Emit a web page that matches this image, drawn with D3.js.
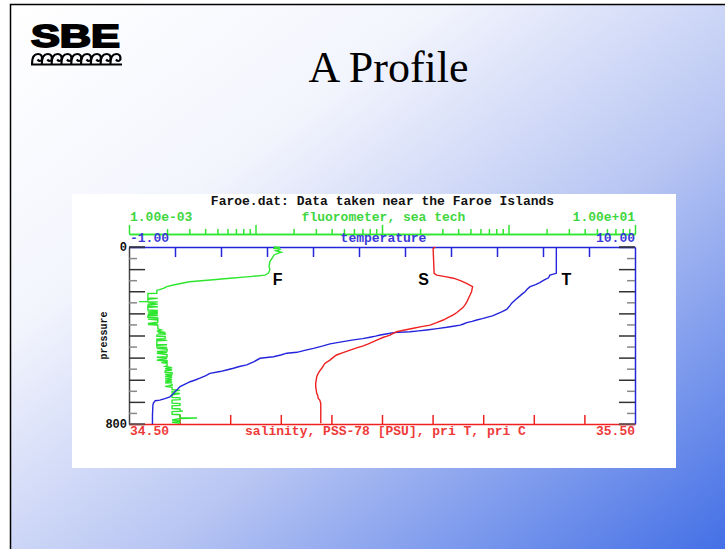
<!DOCTYPE html>
<html>
<head>
<meta charset="utf-8">
<script src="https://cdn.jsdelivr.net/npm/d3@7/dist/d3.min.js"></script>
<style>
  html, body { margin: 0; padding: 0; background: #fff; }
  svg { display: block; }
</style>
</head>
<body>
<svg id="c" width="725" height="549"></svg>
<script>
// ---------------- DATA ----------------
const chartTitle = "Faroe.dat: Data taken near the Faroe Islands";
const slideTitle = "A Profile";

// pressure (dbar) vs temperature (deg C)
const tempPressure = [0, 119, 127, 139, 150, 161, 170, 179, 190, 202, 212, 221, 238, 254, 268, 282, 293, 303, 311, 318, 324, 330, 336, 342, 348, 353, 358, 363, 369, 375, 379, 383, 387, 392, 398, 403, 408, 414, 420, 429, 438, 448, 458, 467, 476, 480, 488, 496, 503, 518, 533, 540, 548, 556, 563, 571, 582, 593, 601, 609, 620, 631, 642, 654, 666, 677, 685, 692, 695, 705, 714, 760, 800];
const tempValues   = [8.29, 8.29, 8.15, 8.12, 8.02, 7.93, 7.84, 7.72, 7.66, 7.61, 7.55, 7.50, 7.40, 7.32, 7.27, 7.21, 7.10, 6.99, 6.90, 6.78, 6.68, 6.56, 6.46, 6.34, 6.27, 6.20, 6.05, 5.91, 5.70, 5.47, 5.30, 5.11, 4.75, 4.62, 4.46, 4.36, 4.24, 4.08, 3.88, 3.62, 3.37, 3.20, 3.01, 2.82, 2.65, 2.43, 2.30, 2.14, 1.85, 1.72, 1.56, 1.40, 1.27, 1.12, 0.98, 0.76, 0.66, 0.54, 0.44, 0.33, 0.22, 0.11, 0.06, 0.00, -0.05, -0.11, -0.22, -0.33, -0.43, -0.47, -0.48, -0.49, -0.49];

// pressure (dbar) vs salinity (PSU)
const salPressure = [0, 3, 6, 119, 127, 134, 141, 152, 164, 179, 190, 202, 217, 232, 247, 262, 274, 285, 296, 307, 318, 330, 342, 353, 360, 367, 375, 383, 390, 398, 403, 408, 418, 428, 438, 447, 456, 466, 477, 488, 500, 511, 526, 537, 548, 560, 571, 586, 601, 616, 631, 646, 661, 672, 684, 692, 707, 722, 760, 797];
const salValues   = [35.102, 35.104, 35.101, 35.103, 35.108, 35.125, 35.141, 35.155, 35.167, 35.179, 35.178, 35.177, 35.174, 35.171, 35.168, 35.164, 35.160, 35.154, 35.148, 35.141, 35.131, 35.121, 35.108, 35.095, 35.078, 35.062, 35.045, 35.029, 35.022, 35.016, 35.010, 35.003, 34.993, 34.983, 34.973, 34.963, 34.950, 34.937, 34.923, 34.910, 34.903, 34.897, 34.887, 34.884, 34.881, 34.877, 34.874, 34.871, 34.870, 34.869, 34.869, 34.870, 34.871, 34.873, 34.874, 34.877, 34.879, 34.879, 34.879, 34.879];

// pressure (dbar) vs fluorescence
const fluorPressure = [0, 2, 6, 10, 17, 24, 28, 36, 51, 66, 86, 104, 119, 127, 134, 141, 149, 157, 172, 179, 187, 194,
  196, 209, 210, 230, 232, 236, 246, 247, 248, 252, 258, 262, 268, 270, 272, 285, 287, 289, 292, 294, 297, 299, 303, 305, 310, 312, 318, 320, 324, 326, 330, 340, 345, 348, 350, 353, 370, 375, 380, 386,
  389, 390, 396, 398, 404, 405, 414, 416, 420, 422, 424, 440, 442, 444, 452, 454, 458, 462, 470, 472, 476, 480, 486, 496, 498, 504, 512, 514, 520, 522, 526, 536, 540,
  546, 550, 556, 560, 566, 568, 574, 576, 582, 586, 590, 596, 600, 606, 610, 614, 620, 626, 630, 634, 644,
  648, 652, 660, 662, 668, 680, 682, 690, 692, 706, 708, 716, 718, 730, 732, 740, 742, 744, 756, 758, 766, 772, 773, 775, 782, 786, 790, 792, 797];
const fluorValues = [1.40e-2, 1.56e-2, 1.38e-2, 1.58e-2, 1.45e-2, 1.60e-2, 1.52e-2, 1.40e-2, 1.35e-2, 1.30e-2, 1.28e-2, 1.30e-2, 1.26e-2, 1.19e-2, 9.0e-3, 6.3e-3, 4.4e-3, 3.0e-3, 2.24e-3, 1.99e-3, 1.87e-3, 1.72e-3,
  1.66e-3, 1.66e-3, 1.41e-3, 1.41e-3, 1.69e-3, 1.41e-3, 1.41e-3, 1.20e-3, 1.69e-3, 1.41e-3, 1.69e-3, 1.41e-3, 1.41e-3, 1.69e-3, 1.41e-3, 1.41e-3, 1.69e-3, 1.41e-3, 1.69e-3, 1.41e-3, 1.69e-3, 1.41e-3, 1.69e-3, 1.41e-3, 1.69e-3, 1.41e-3, 1.41e-3, 1.69e-3, 1.69e-3, 1.41e-3, 1.69e-3, 1.69e-3, 1.41e-3, 1.69e-3, 1.41e-3, 1.69e-3, 1.69e-3, 1.80e-3, 1.66e-3, 1.93e-3,
  1.69e-3, 1.93e-3, 1.93e-3, 1.66e-3, 1.66e-3, 1.93e-3, 1.93e-3, 1.66e-3, 1.66e-3, 2.0e-3, 1.66e-3, 1.66e-3, 2.0e-3, 1.66e-3, 1.66e-3, 2.0e-3, 1.66e-3, 2.0e-3, 2.0e-3, 1.66e-3, 2.0e-3, 1.66e-3, 2.0e-3, 2.0e-3, 1.66e-3, 2.0e-3, 1.66e-3, 2.0e-3, 2.0e-3, 1.80e-3, 2.0e-3, 2.0e-3, 1.93e-3,
  2.19e-3, 1.93e-3, 2.19e-3, 1.93e-3, 1.93e-3, 2.19e-3, 2.19e-3, 1.93e-3, 2.19e-3, 1.93e-3, 2.19e-3, 1.93e-3, 2.19e-3, 1.93e-3, 2.19e-3, 1.93e-3, 2.19e-3, 2.19e-3, 1.93e-3, 2.19e-3, 2.19e-3,
  2.53e-3, 2.19e-3, 2.19e-3, 2.53e-3, 2.19e-3, 2.19e-3, 2.53e-3, 2.53e-3, 2.19e-3, 2.19e-3, 2.53e-3, 2.53e-3, 2.19e-3, 2.19e-3, 2.53e-3, 2.53e-3, 2.67e-3, 2.19e-3, 2.19e-3, 2.53e-3, 2.53e-3, 2.53e-3, 3.45e-3, 2.53e-3, 2.19e-3, 2.53e-3, 2.53e-3, 2.19e-3, 2.53e-3];

// axes
const tempDomain = [-1, 10];
const salDomain = [34.5, 35.5];
const fluorDomain = [1e-3, 1e1];
const pressureDomain = [0, 800];
const tempTicks = d3.range(-1, 11, 1);
const salTicks = d3.range(0, 11).map(i => 34.5 + i * 0.1);
const fluorMajorTicks = [1e-3, 1e-2, 1e-1, 1e0, 1e1];
const fluorMinorTicks = [1e-3, 1e-2, 1e-1, 1e0].flatMap(d => d3.range(2, 10).map(m => d * m));
const pressureMajorTicks = d3.range(0, 801, 100);
const pressureMinorTicks = d3.range(50, 800, 100);
const tempTickLabels = ["-1.00", "10.00"];
const salTickLabels = ["34.50", "35.50"];
const fluorTickLabels = ["1.00e-03", "1.00e+01"];
const pressureTickLabels = ["0", "800"];
const axisTitles = { fluor: "fluorometer, sea tech", temp: "temperature", sal: "salinity, PSS-78 [PSU], pri T, pri C", pres: "pressure" };
const curveLabels = ["F", "S", "T"];

// ---------------- DRAW ----------------
const svg = d3.select("#c");
const defs = svg.append("defs");
const grad = defs.append("linearGradient").attr("id", "bg")
  .attr("x1", "0").attr("y1", "0").attr("x2", "1").attr("y2", "1");
grad.append("stop").attr("offset", "0").attr("stop-color", "#ffffff");
grad.append("stop").attr("offset", "0.3").attr("stop-color", "#f3f5fd");
grad.append("stop").attr("offset", "0.6").attr("stop-color", "#b9c6f3");
grad.append("stop").attr("offset", "1").attr("stop-color", "#4470e6");

svg.append("rect").attr("width", 725).attr("height", 549).attr("fill", "#fff");
svg.append("rect").attr("x", 10).attr("y", 4).attr("width", 715).attr("height", 545).attr("fill", "url(#bg)");
svg.append("path").attr("d", "M10.5,549 L10.5,4.5 L725,4.5").attr("fill", "none").attr("stroke", "#000").attr("stroke-width", 1.5);

// logo
svg.append("text").attr("x", 31).attr("y", 47).text("SBE")
  .attr("font-family", "Liberation Sans, Arial, sans-serif").attr("font-weight", 900)
  .attr("font-size", 31).attr("textLength", 89).attr("lengthAdjust", "spacingAndGlyphs")
  .attr("fill", "#000").attr("stroke", "#000").attr("stroke-width", 1.8);
const waves = svg.append("g").attr("fill", "none").attr("stroke", "#000").attr("stroke-width", 2.2);
for (let i = 0; i < 9; i++) {
  const x0 = 32 + i * 9.8;
  waves.append("path").attr("d", `M${x0},64 Q${x0},54 ${x0 + 6},54 Q${x0 + 10.5},54 ${x0 + 10},59.5 Q${x0 + 8},62.5 ${x0 + 5.5},59.5`);
}
waves.append("line").attr("x1", 31).attr("x2", 122).attr("y1", 64.5).attr("y2", 64.5);

// slide title
svg.append("text").attr("x", 388.5).attr("y", 82).attr("text-anchor", "middle")
  .attr("font-family", "Liberation Serif, Times New Roman, serif").attr("font-size", 44).attr("fill", "#000")
  .text(slideTitle);

// chart box
svg.append("rect").attr("x", 72).attr("y", 194).attr("width", 604).attr("height", 274).attr("fill", "#fff");

const L = 129, R = 635, T = 247, B = 424;
const y = d3.scaleLinear().domain(pressureDomain).range([T, B]);
const xT = d3.scaleLinear().domain(tempDomain).range([L, R]);
const xS = d3.scaleLinear().domain(salDomain).range([L, R]);
const xF = d3.scaleLog().domain(fluorDomain).range([L, R]);

const GREEN = "#2ee62e", GREEN_TXT = "#3fd63f", BLUE = "#2424dc", BLUE_TXT = "#3a3ad8", RED = "#ee2020", RED_TXT = "#ee3a3a";
const mono = "Liberation Mono, Courier New, monospace";

function styleAxis(g, color, w) {
  g.selectAll("path.domain").attr("stroke", color).attr("stroke-width", w);
  g.selectAll(".tick line").attr("stroke", color).attr("stroke-width", w);
  g.selectAll(".tick text").remove();
}

// pressure axes (left and right)
const presLeftMinor = svg.append("g").attr("transform", `translate(${L},0)`)
  .call(d3.axisRight(y).tickValues(pressureMinorTicks).tickSize(8).tickSizeOuter(0).tickFormat(""));
styleAxis(presLeftMinor, "#444", 1.5);
presLeftMinor.selectAll(".tick line").attr("stroke", "#888");
const presLeftMajor = svg.append("g").attr("transform", `translate(${L},0)`)
  .call(d3.axisRight(y).tickValues(pressureMajorTicks).tickSize(16).tickSizeOuter(0).tickFormat(""));
styleAxis(presLeftMajor, "#333", 1.5);
presLeftMajor.select("path.domain").remove();

const presRightMinor = svg.append("g").attr("transform", `translate(${R},0)`)
  .call(d3.axisLeft(y).tickValues(pressureMinorTicks).tickSize(8).tickSizeOuter(0).tickFormat(""));
styleAxis(presRightMinor, BLUE, 1.5);
presRightMinor.selectAll(".tick line").attr("stroke", "#888");
const presRightMajor = svg.append("g").attr("transform", `translate(${R},0)`)
  .call(d3.axisLeft(y).tickValues(pressureMajorTicks).tickSize(16).tickSizeOuter(0).tickFormat(""));
styleAxis(presRightMajor, "#333", 1.5);
presRightMajor.select("path.domain").remove();

// temperature axis (top of plot)
const tAxis = svg.append("g").attr("transform", `translate(0,${T})`)
  .call(d3.axisBottom(xT).tickValues(tempTicks.slice(1, -1)).tickSize(10).tickSizeOuter(0).tickFormat(""));
styleAxis(tAxis, BLUE, 1.5);
svg.append("line").attr("x1", L).attr("x2", L + 16).attr("y1", y(0)).attr("y2", y(0)).attr("stroke", "#333").attr("stroke-width", 1.5);
svg.append("line").attr("x1", R - 16).attr("x2", R).attr("y1", y(0)).attr("y2", y(0)).attr("stroke", "#333").attr("stroke-width", 1.5);

// salinity axis (bottom)
const sAxis = svg.append("g").attr("transform", `translate(0,${B})`)
  .call(d3.axisTop(xS).tickValues(salTicks.slice(1, -1)).tickSize(9).tickSizeOuter(0).tickFormat(""));
styleAxis(sAxis, RED, 1.5);
svg.append("line").attr("x1", L).attr("x2", L + 16).attr("y1", y(800)).attr("y2", y(800)).attr("stroke", "#555").attr("stroke-width", 1.5);
svg.append("line").attr("x1", R - 16).attr("x2", R).attr("y1", y(800)).attr("y2", y(800)).attr("stroke", "#555").attr("stroke-width", 1.5);

// fluorometer axis (above)
const FY = 234;
const fMinor = svg.append("g").attr("transform", `translate(0,${FY})`)
  .call(d3.axisTop(xF).tickValues(fluorMinorTicks.filter(d => ![1e-3,1e-2,1e-1,1e0].includes(d))).tickSize(5).tickSizeOuter(0).tickFormat(""));
styleAxis(fMinor, GREEN, 1.5);
const fMajor = svg.append("g").attr("transform", `translate(0,${FY})`)
  .call(d3.axisTop(xF).tickValues(fluorMajorTicks).tickSize(9).tickSizeOuter(0).tickFormat(""));
styleAxis(fMajor, GREEN, 1.5);

// curves
const lineT = d3.line().x(d => xT(d[1])).y(d => y(d[0]));
const lineS = d3.line().x(d => xS(d[1])).y(d => y(d[0]));
const lineF = d3.line().x(d => xF(d[1])).y(d => y(d[0]));
svg.append("path").datum(fluorPressure.map((p, i) => [p, fluorValues[i]])).attr("d", lineF)
  .attr("fill", "none").attr("stroke", GREEN).attr("stroke-width", 1.4);
svg.append("path").datum(tempPressure.map((p, i) => [p, tempValues[i]])).attr("d", lineT)
  .attr("fill", "none").attr("stroke", BLUE).attr("stroke-width", 1.4);
svg.append("path").datum(salPressure.map((p, i) => [p, salValues[i]])).attr("d", lineS)
  .attr("fill", "none").attr("stroke", RED).attr("stroke-width", 1.4);

// texts
const txt = (x, yy, s, color, anchor, size) => svg.append("text").attr("x", x).attr("y", yy)
  .attr("text-anchor", anchor).attr("font-family", mono).attr("font-weight", "bold")
  .attr("font-size", size || 13).attr("fill", color).text(s);

const mid = (L + R) / 2 + 0.5;
txt(mid, 205, chartTitle, "#111", "middle");
txt(xF(fluorDomain[0]) + 1, 221, fluorTickLabels[0], GREEN_TXT, "start");
txt(xF(fluorDomain[1]), 221, fluorTickLabels[1], GREEN_TXT, "end");
txt(mid + 1, 221, axisTitles.fluor, GREEN_TXT, "middle");
txt(xT(tempDomain[0]) + 1, 242, tempTickLabels[0], BLUE_TXT, "start");
txt(xT(tempDomain[1]), 242, tempTickLabels[1], BLUE_TXT, "end");
txt(mid + 1, 242, axisTitles.temp, BLUE_TXT, "middle");
txt(xS(salDomain[0]) + 1, 435, salTickLabels[0], RED_TXT, "start");
txt(xS(salDomain[1]), 435, salTickLabels[1], RED_TXT, "end");
txt(mid + 3, 435, axisTitles.sal, RED_TXT, "middle");
txt(L - 2, y(0) + 4, pressureTickLabels[0], "#111", "end", 12);
txt(L - 2, y(800) + 4, pressureTickLabels[1], "#111", "end", 12);
svg.append("text").attr("transform", `translate(${107},${y(400)}) rotate(-90)`)
  .attr("text-anchor", "middle").attr("font-family", mono).attr("font-weight", "bold")
  .attr("font-size", 10).attr("fill", "#111").text(axisTitles.pres);

// curve labels
const labelPos = [[xF(1.37e-2), 285], [xS(35.0715), 285], [xT(8.40), 285]];
curveLabels.forEach((c, i) => {
  svg.append("text").attr("x", labelPos[i][0]).attr("y", labelPos[i][1])
    .attr("font-family", "Liberation Sans, Arial, sans-serif").attr("font-weight", "bold")
    .attr("font-size", 16).attr("fill", "#000").text(c);
});
</script>
</body>
</html>
